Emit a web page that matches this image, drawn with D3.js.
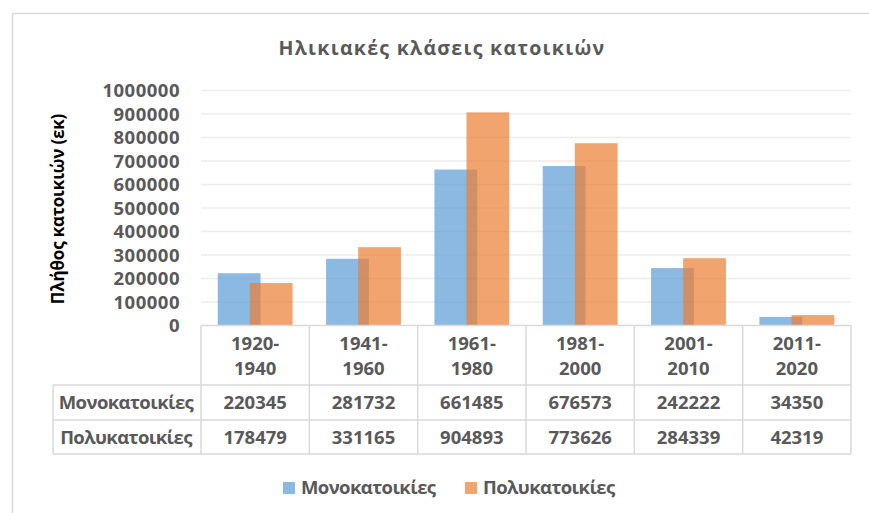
<!DOCTYPE html>
<html><head><meta charset="utf-8">
<script src="https://cdn.jsdelivr.net/npm/d3@7"></script>
<style>
body{margin:0;background:#fff;}
text{font-family:"Open Sans",sans-serif;font-weight:700;}
</style></head>
<body><svg id="c" width="869" height="513"></svg>
<script>
const categories = [["1920-","1940"],["1941-","1960"],["1961-","1980"],["1981-","2000"],["2001-","2010"],["2011-","2020"]];
const seriesNames = ["Μονοκατοικίες","Πολυκατοικίες"];
const mono = [220345, 281732, 661485, 676573, 242222, 34350];
const poly = [178479, 331165, 904893, 773626, 284339, 42319];
const yTicks = [0,100000,200000,300000,400000,500000,600000,700000,800000,900000,1000000];
const colors = ["#5B9BD5","#ED7D31"];
const title = "Ηλικιακές κλάσεις κατοικιών";
const yLabel = "Πλήθος κατοικιών (εκ)";

const svg = d3.select("#c");
const grey = "#595959", line = "#d9d9d9";

// frame
svg.append("rect").attr("x",12.5).attr("y",13.5).attr("width",900).attr("height",600)
  .attr("fill","#fff").attr("stroke",line).attr("stroke-width",1.5);

const keys = categories.map(c=>c.join(""));
const x = d3.scaleBand().domain(keys).range([201,851]);
const y = d3.scaleLinear().domain([0,1000000]).range([325,90]);

// gridlines
svg.append("g").selectAll("line").data(yTicks.slice(1)).join("line")
  .attr("x1",201).attr("x2",851).attr("y1",d=>y(d)+0.5).attr("y2",d=>y(d)+0.5)
  .attr("stroke","#ececec").attr("stroke-width",1.3);

// y axis tick labels
const yAxis = d3.axisLeft(y).tickValues(yTicks).tickSize(0).tickPadding(0).tickFormat(d3.format("d"));
const ga = svg.append("g").attr("transform","translate(180,0)").call(yAxis);
ga.select(".domain").remove();
ga.selectAll("text").attr("fill",grey).style("font-size","18.5px").style("font-family","'Open Sans',sans-serif")
  .style("font-weight","700").style("letter-spacing","0.5px").attr("dy","0.36em");

// bars
const bw = x.bandwidth();
const barW = bw*0.395, off = bw*0.148;
[mono,poly].forEach((vals,si)=>{
  svg.append("g").selectAll("rect").data(vals).join("rect")
    .attr("x",(d,i)=>x(keys[i])+bw/2+(si===0?-off:off)-barW/2)
    .attr("width",barW)
    .attr("y",d=>y(d)).attr("height",d=>y(0)-y(d))
    .attr("fill",colors[si]).attr("fill-opacity",0.7);
});

// title
svg.append("text").attr("x",442).attr("y",55).attr("text-anchor","middle")
  .attr("fill",grey).style("font-size","19.5px").style("letter-spacing","1.3px").text(title);

// y label
svg.append("text").attr("transform","translate(64,209) rotate(-90)").attr("text-anchor","middle")
  .attr("fill","#000").style("font-size","17px").style("letter-spacing","-0.2px").text(yLabel);

// table
const tg = svg.append("g");
const rowY = [325.5, 385, 420, 454];
tg.append("line").attr("x1",201).attr("x2",851).attr("y1",rowY[0]).attr("y2",rowY[0]).attr("stroke",line).attr("stroke-width",1.5);
[1,2,3].forEach(r=>tg.append("line").attr("x1",53).attr("x2",851).attr("y1",rowY[r]).attr("y2",rowY[r]).attr("stroke",line).attr("stroke-width",1.5));
tg.append("line").attr("x1",53).attr("x2",53).attr("y1",rowY[1]).attr("y2",rowY[3]).attr("stroke",line).attr("stroke-width",1.5);
const bounds = keys.map(k=>x(k)).concat([x.range()[1]]);
tg.selectAll("line.v").data(bounds).join("line").attr("class","v")
  .attr("x1",d=>d).attr("x2",d=>d).attr("y1",rowY[0]).attr("y2",rowY[3]).attr("stroke",line).attr("stroke-width",1.5);

const fs = "18.5px", gs = "-0.6px";
categories.forEach((c,i)=>{
  const cx = x(keys[i])+bw/2;
  tg.append("text").attr("x",cx).attr("y",350).attr("text-anchor","middle").attr("fill",grey).style("font-size",fs).text(c[0]);
  tg.append("text").attr("x",cx).attr("y",375).attr("text-anchor","middle").attr("fill",grey).style("font-size",fs).text(c[1]);
  tg.append("text").attr("x",cx).attr("y",409).attr("text-anchor","middle").attr("fill",grey).style("font-size",fs).text(mono[i]);
  tg.append("text").attr("x",cx).attr("y",444).attr("text-anchor","middle").attr("fill",grey).style("font-size",fs).text(poly[i]);
});
tg.append("text").attr("x",126).attr("y",409).attr("text-anchor","middle").attr("fill",grey).style("font-size",fs).style("letter-spacing",gs).text(seriesNames[0]);
tg.append("text").attr("x",126).attr("y",444).attr("text-anchor","middle").attr("fill",grey).style("font-size",fs).style("letter-spacing",gs).text(seriesNames[1]);

// legend
const legX = [283, 465];
seriesNames.forEach((n,i)=>{
  svg.append("rect").attr("x",legX[i]).attr("y",482).attr("width",12).attr("height",12).attr("fill",colors[i]).attr("fill-opacity",0.7);
  svg.append("text").attr("x",legX[i]+18).attr("y",494).attr("fill",grey).style("font-size",fs).style("letter-spacing",gs).text(n);
});
</script></body></html>
